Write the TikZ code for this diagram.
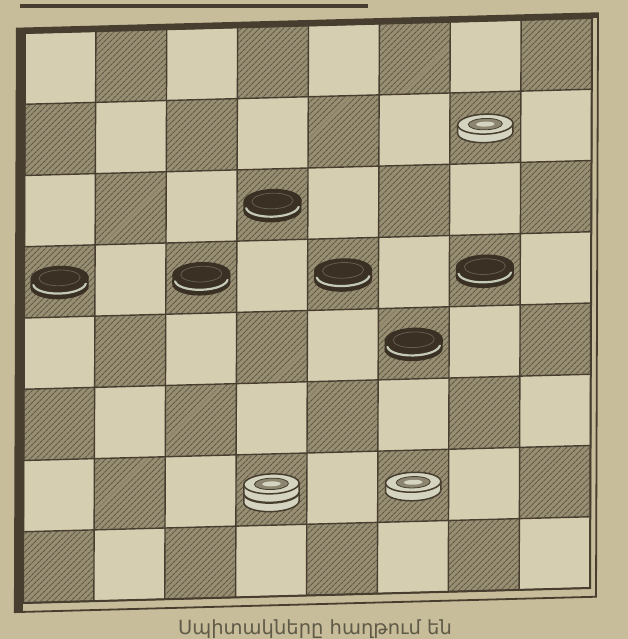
\documentclass[tikz,border=0pt]{standalone}
\usepackage{fontspec}
\newfontfamily\armfont{DejaVu Sans}
\usetikzlibrary{patterns.meta}
\definecolor{papel}{RGB}{199,189,154}
\definecolor{clara}{RGB}{214,206,177}
\definecolor{escura}{RGB}{152,142,114}
\definecolor{hachura}{RGB}{98,90,72}
\definecolor{linha}{RGB}{72,62,48}
\definecolor{preta}{RGB}{58,48,36}
\definecolor{brilho}{RGB}{196,202,182}
\definecolor{branca}{RGB}{212,212,192}
\definecolor{cinza}{RGB}{140,134,112}
\definecolor{legenda}{RGB}{96,90,72}

\begin{document}
\begin{tikzpicture}[x=1pt,y=1pt,
  grade/.style={linha, line width=1.4pt},
  casa escura/.style={fill=escura, postaction={pattern={Lines[angle=45,distance=4pt,line width=1.2pt]}, pattern color=hachura}},
  contorno/.style={draw=linha, line width=1.5pt}]
\useasboundingbox (0,0) rectangle (628,-639);
\fill[papel] (0,0) rectangle (628,-639);

% Fio no alto da página
\draw[linha, line width=3.5pt] (20,-6) -- (368,-6);

\begin{scope}[shift={(25,-33)}, x={(70.875pt,1.875pt)}, y={(-0.25pt,-71.25pt)}]
% Moldura
\fill[linha] (-0.115,-0.065) -- (8.085,-0.065) -- (8.085,0) -- (-0.115,0) -- cycle;
\fill[linha] (-0.115,-0.065) -- (0,-0.065) -- (0,8.125) -- (-0.115,8.125) -- cycle;
\draw[linha, line width=1.8pt] (-0.115,-0.065) -- (8.085,-0.065) -- (8.085,8.125) -- (-0.115,8.125) -- cycle;

% Casas
\fill[clara] (0,0) -- (8,0) -- (8,8) -- (0,8) -- cycle;
\foreach \r in {0,...,7} {
  \foreach \k in {0,...,3} {
    \pgfmathtruncatemacro\c{2*\k+mod(\r+1,2)}
    \fill[casa escura] (\c,\r) -- (\c+1,\r) -- (\c+1,\r+1) -- (\c,\r+1) -- cycle;
  }
}
\foreach \i in {0,...,8} {
  \draw[grade] (\i,0) -- (\i,8);
  \draw[grade] (0,\i) -- (8,\i);
}
\draw[linha, line width=2pt] (0,0) -- (8,0) -- (8,8) -- (0,8) -- cycle;

% Peças pretas
\foreach \c/\r in {3/2,0/3,2/3,4/3,6/3,5/4} {
  \begin{scope}[shift={(\c+0.5,\r+0.5)}]
    \fill[preta] (0,0.08) ellipse [x radius=0.41, y radius=0.17];
    \fill[preta] (-0.41,-0.05) -- (0.41,-0.05) -- (0.41,0.08) -- (-0.41,0.08) -- cycle;
    \draw[brilho, line width=2.2pt] (-0.37,0.03) arc [start angle=180, end angle=0, x radius=0.37, y radius=0.14];
    \fill[preta] (0,-0.05) ellipse [x radius=0.41, y radius=0.17];
    \draw[preta!70!brilho, line width=0.8pt] (0,-0.05) ellipse [x radius=0.29, y radius=0.11];
  \end{scope}
}

% Peças brancas (a dama tem dois discos)
\foreach \c/\r/\dy in {6/1/0, 5/6/0, 3/6/0.1, 3/6/-0.03} {
  \begin{scope}[shift={(\c+0.5,\r+0.5+\dy)}]
    \filldraw[fill=branca, contorno] (0,0.07) ellipse [x radius=0.39, y radius=0.14];
    \fill[branca] (-0.39,-0.05) -- (0.39,-0.05) -- (0.39,0.07) -- (-0.39,0.07) -- cycle;
    \draw[contorno] (-0.39,-0.05) -- (-0.39,0.07) (0.39,-0.05) -- (0.39,0.07);
    \filldraw[fill=branca, contorno] (0,-0.05) ellipse [x radius=0.39, y radius=0.14];
    \filldraw[fill=cinza, draw=linha, line width=0.8pt] (0,-0.05) ellipse [x radius=0.24, y radius=0.08];
    \fill[branca] (0,-0.05) ellipse [x radius=0.13, y radius=0.035];
  \end{scope}
}
\end{scope}

% Legenda
\node[font=\armfont\fontsize{19.5}{22}\selectfont, text=legenda, anchor=base] (legenda) at (315,-634) {Սպիտակները հաղթում են};
\end{tikzpicture}
\end{document}
